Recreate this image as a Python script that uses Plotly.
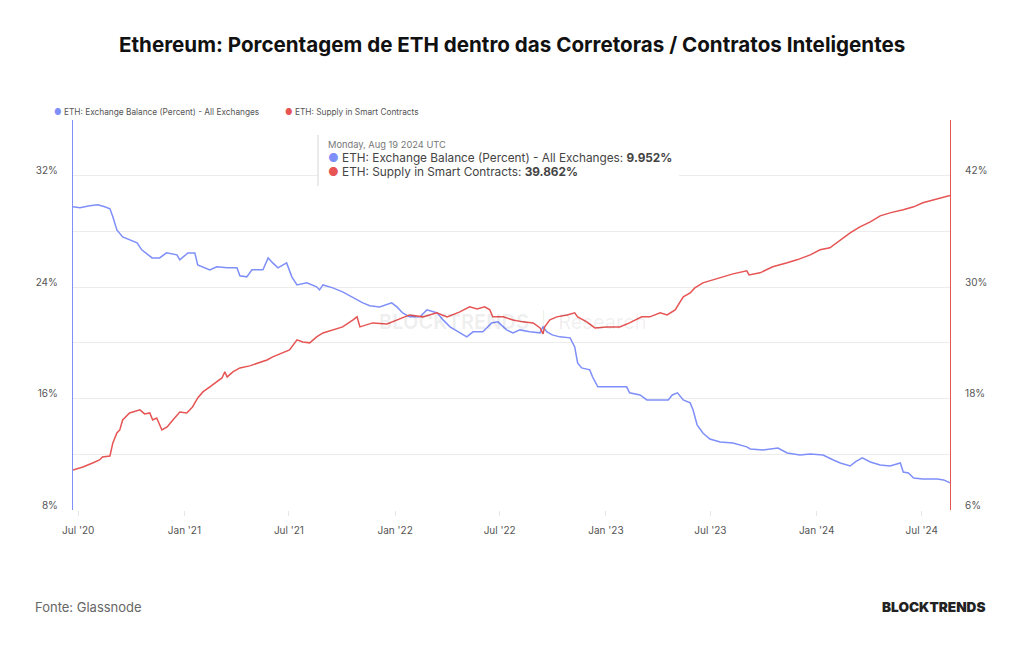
import plotly.graph_objects as go

# ---------------- data ----------------
exch_dates = ["2020-06-22","2020-07-04","2020-07-21","2020-08-04","2020-08-16","2020-08-25","2020-08-30","2020-09-06",
"2020-09-16","2020-09-28","2020-10-11","2020-10-19","2020-11-06","2020-11-19","2020-12-01","2020-12-19","2020-12-24",
"2021-01-07","2021-01-19","2021-01-24","2021-02-14","2021-02-26","2021-03-16","2021-04-02","2021-04-07","2021-04-19",
"2021-04-28","2021-05-17","2021-05-26","2021-06-03","2021-06-12","2021-06-27","2021-07-06","2021-07-15","2021-08-01",
"2021-08-18","2021-08-23","2021-08-29","2021-09-15","2021-10-02","2021-10-20","2021-11-06","2021-11-18","2021-12-05",
"2021-12-26","2022-01-04","2022-01-14","2022-01-26","2022-02-13","2022-02-25","2022-03-15","2022-03-25","2022-04-06",
"2022-04-23","2022-05-05","2022-05-16","2022-06-02","2022-06-17","2022-06-28","2022-07-13","2022-07-24","2022-08-05",
"2022-08-22","2022-09-09","2022-09-14","2022-09-21","2022-09-30","2022-10-13","2022-10-31","2022-11-08","2022-11-13",
"2022-11-20","2022-12-04","2022-12-09","2022-12-18","2023-01-13","2023-02-06","2023-02-11","2023-03-01","2023-03-13",
"2023-03-31","2023-04-19","2023-04-26","2023-05-05","2023-05-15","2023-05-27","2023-06-01","2023-06-08","2023-06-18",
"2023-06-30","2023-07-18","2023-08-09","2023-09-02","2023-09-08","2023-09-30","2023-10-26","2023-11-11","2023-12-03",
"2023-12-21","2024-01-12","2024-01-30","2024-02-11","2024-02-28","2024-03-08","2024-03-20","2024-04-03","2024-04-20",
"2024-05-07","2024-05-25","2024-05-30","2024-06-08","2024-06-17","2024-07-03","2024-07-28","2024-08-08","2024-08-19"]
exch_values = [29.77,29.70,29.84,29.91,29.77,29.62,29.05,28.11,
27.61,27.40,27.18,26.68,26.10,26.10,26.46,26.32,25.96,
26.46,26.46,25.60,25.24,25.46,25.39,25.39,24.81,24.74,
25.24,25.24,26.10,25.74,25.39,25.74,24.74,24.16,24.31,
24.02,23.80,24.16,23.95,23.66,23.23,22.87,22.66,22.58,
22.87,22.58,22.15,21.87,21.87,22.37,22.15,21.65,21.15,
20.72,20.43,20.79,20.79,21.43,21.51,20.93,20.72,20.93,
20.79,20.72,21.15,20.79,20.57,20.43,20.36,19.71,18.56,
18.20,18.06,17.55,16.84,16.84,16.84,16.41,16.26,15.90,
15.90,15.90,16.26,16.41,15.90,15.69,15.18,14.11,13.53,
13.10,12.89,12.81,12.53,12.38,12.31,12.45,12.09,11.95,
12.02,11.95,11.59,11.38,11.16,11.45,11.74,11.45,11.23,
11.16,11.38,10.73,10.66,10.30,10.23,10.23,10.16,9.952]

smart_dates = ["2020-06-22","2020-07-09","2020-07-26","2020-08-07","2020-08-12","2020-08-25","2020-08-30","2020-09-06",
"2020-09-11","2020-09-16","2020-09-28","2020-10-16","2020-10-24","2020-11-02","2020-11-07","2020-11-14","2020-11-23",
"2020-12-02","2020-12-12","2020-12-24","2021-01-05","2021-01-15","2021-01-24","2021-02-02","2021-02-14","2021-02-26",
"2021-03-07","2021-03-12","2021-03-16","2021-03-26","2021-04-07","2021-04-24","2021-05-11","2021-05-24","2021-06-03",
"2021-06-20","2021-07-02","2021-07-15","2021-07-25","2021-08-06","2021-08-18","2021-08-29","2021-09-15","2021-10-02",
"2021-10-20","2021-10-27","2021-11-01","2021-11-13","2021-11-23","2021-12-18","2022-01-04","2022-01-26","2022-02-18",
"2022-03-14","2022-04-01","2022-04-23","2022-05-10","2022-05-23","2022-06-05","2022-06-14","2022-06-19","2022-07-07",
"2022-07-24","2022-08-10","2022-08-28","2022-09-09","2022-09-14","2022-09-17","2022-09-26","2022-10-08","2022-10-26",
"2022-11-08","2022-11-13","2022-11-29","2022-12-13","2023-01-03","2023-01-25","2023-02-11","2023-03-04","2023-03-18",
"2023-04-05","2023-04-17","2023-05-01","2023-05-09","2023-05-15","2023-05-27","2023-06-04","2023-06-18","2023-07-18",
"2023-08-09","2023-09-02","2023-09-06","2023-09-25","2023-10-17","2023-11-11","2023-11-28","2023-12-21","2024-01-07",
"2024-01-24","2024-02-11","2024-02-28","2024-03-16","2024-04-03","2024-04-20","2024-05-07","2024-05-30","2024-06-17",
"2024-07-03","2024-07-28","2024-08-19"]
smart_values = [10.31,10.63,11.06,11.39,11.71,11.82,13.22,14.30,
14.62,15.70,16.45,16.78,16.35,16.45,15.70,15.91,14.62,
14.94,15.70,16.56,16.45,17.10,18.07,18.72,19.25,19.79,
20.22,20.87,20.33,20.87,21.30,21.52,21.84,22.16,22.49,
22.92,23.24,24.32,24.10,24.00,24.64,25.07,25.40,25.72,
26.47,26.80,25.72,25.94,26.15,26.04,26.47,27.01,26.80,
27.23,26.80,27.34,27.88,27.66,27.88,27.55,26.80,26.80,
26.47,26.26,26.15,25.61,24.97,25.72,26.47,26.80,27.01,
27.23,26.80,26.26,25.61,25.72,25.72,26.15,26.80,26.80,
27.23,27.01,27.55,28.31,28.95,29.38,29.92,30.46,31.00,
31.43,31.75,31.32,31.54,32.19,32.62,32.94,33.48,34.02,
34.23,35.10,35.85,36.50,37.03,37.68,38.00,38.33,38.65,
39.08,39.51,39.862]

x_tick_dates = ["2020-07-01","2021-01-01","2021-07-01","2022-01-01","2022-07-01","2023-01-01","2023-07-01","2024-01-01","2024-07-01"]
x_tick_labels = ["Jul '20","Jan '21","Jul '21","Jan '22","Jul '22","Jan '23","Jul '23","Jan '24","Jul '24"]
left_ticks = [8, 12, 16, 20, 24, 28, 32, 36]
left_labels = ["8%", "", "16%", "", "24%", "", "32%", ""]
right_ticks = [6, 12, 18, 24, 30, 36, 42, 48]
right_labels = ["6%", "", "18%", "", "30%", "", "42%", ""]

name_exch = "ETH: Exchange Balance (Percent) - All Exchanges"
name_smart = "ETH: Supply in Smart Contracts"
tip_date = "Monday, Aug 19 2024 UTC"

BLUE = "#7f8ff9"
RED = "#e65454"
FONT = "Inter"

W, H = 1024, 645
L, R, T, B = 73, 950, 120, 510


def px(x):
    return (x - L) / (R - L)


def py(y):
    return (B - y) / (B - T)


fig = go.Figure()
fig.add_trace(go.Scatter(x=exch_dates, y=exch_values, mode="lines", name=name_exch,
                         line=dict(color=BLUE, width=1.5), yaxis="y"))
fig.add_trace(go.Scatter(x=smart_dates, y=smart_values, mode="lines", name=name_smart,
                         line=dict(color=RED, width=1.5), yaxis="y2"))


def ann(xp, yp, text, size, color, xanchor="left", weight=None):
    f = dict(family=FONT, size=size, color=color)
    if weight is not None:
        f["weight"] = weight
    return dict(x=px(xp), y=py(yp), xref="paper", yref="paper", xanchor=xanchor, yanchor="middle",
                showarrow=False, text=text, font=f)


annotations = [
    ann(512, 44, "<b>Ethereum: Porcentagem de ETH dentro das Corretoras / Contratos Inteligentes</b>", 20.6, "#111111", "center"),
    ann(52, 112, f"<span style='color:{BLUE}'>●</span> {name_exch}", 8.3, "#555555"),
    ann(283, 112, f"<span style='color:{RED}'>●</span> {name_smart}", 8.3, "#555555"),
    ann(326, 144, tip_date, 9.3, "#777777"),
    ann(326, 158, f"<span style='color:{BLUE}'>●</span> {name_exch}: <b>{exch_values[-1]:.3f}%</b>", 11.8, "#444444"),
    ann(326, 172, f"<span style='color:{RED}'>●</span> {name_smart}: <b>{smart_values[-1]:.3f}%</b>", 11.8, "#444444"),
    ann(512, 322, "<b>BLOCKTRENDS</b>  |  Research", 20, "rgba(0,0,0,0.07)", "center"),
    ann(33, 607, "Fonte: Glassnode", 13, "#666666"),
    ann(988, 607, "BLOCKTRENDS", 13.6, "#222222", "right", 900),
]

shapes = [
    dict(type="rect", xref="paper", yref="paper", x0=px(318), x1=px(679), y0=py(186), y1=py(133),
         fillcolor="white", line=dict(width=0), layer="above"),
    dict(type="line", xref="paper", yref="paper", x0=px(318), x1=px(318), y0=py(186), y1=py(135),
         line=dict(color="#dddddd", width=1.2), layer="above"),
]

fig.update_layout(
    width=W, height=H,
    margin=dict(l=L, r=W - R, t=T, b=H - B),
    paper_bgcolor="white", plot_bgcolor="white",
    showlegend=False,
    font=dict(family=FONT, color="#555555"),
    xaxis=dict(range=["2020-06-22", "2024-08-19"], tickvals=x_tick_dates, ticktext=x_tick_labels,
               showgrid=False, ticks="outside", ticklen=5, tickcolor="#e6e6e6", showline=False,
               zeroline=False, ticklabelstandoff=6, tickfont=dict(family=FONT, size=10, color="#555555")),
    yaxis=dict(range=[8, 36], tickvals=left_ticks, ticktext=left_labels, showgrid=True, gridcolor="#ececec",
               gridwidth=1, showline=True, linecolor=BLUE, linewidth=1.2, zeroline=False, ticks="",
               ticklabelstandoff=12, ticklabelshift=-5, tickfont=dict(family=FONT, size=10, color="#555555")),
    yaxis2=dict(range=[6, 48], tickvals=right_ticks, ticktext=right_labels, overlaying="y", side="right",
                showgrid=False, showline=True, linecolor=RED, linewidth=1.2, zeroline=False, ticks="",
                ticklabelstandoff=12, ticklabelshift=-5, tickfont=dict(family=FONT, size=10, color="#555555")),
    shapes=shapes,
    annotations=annotations,
)

fig.write_html("out.html")
